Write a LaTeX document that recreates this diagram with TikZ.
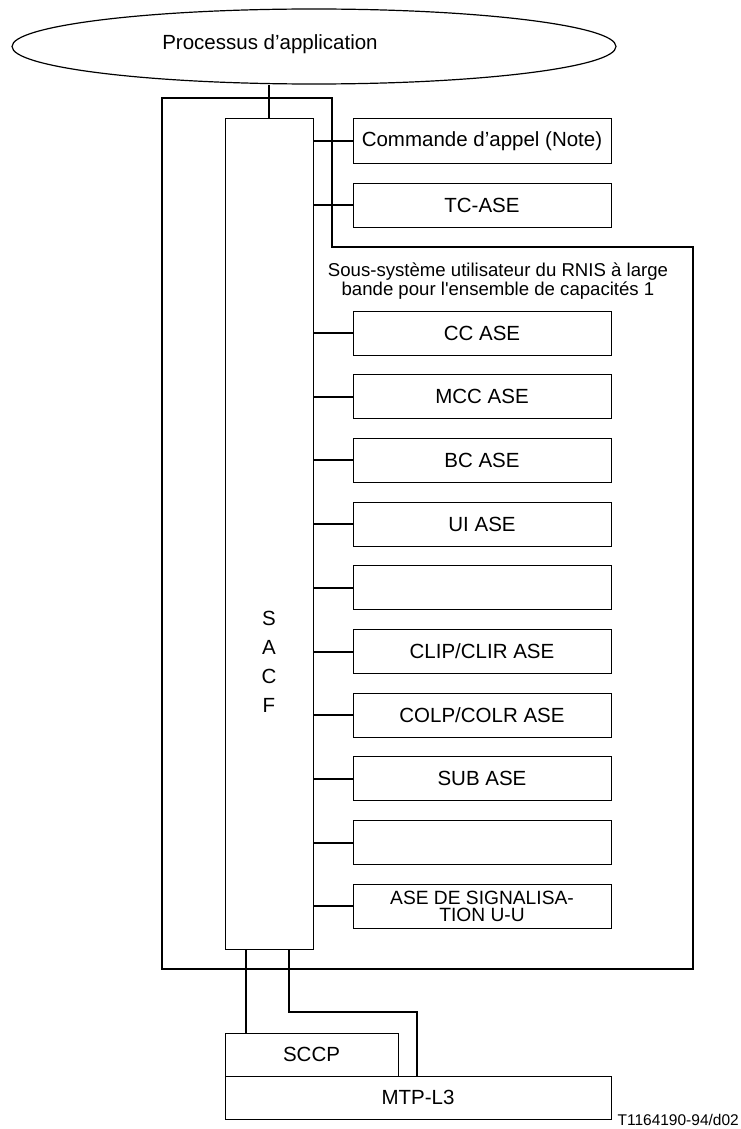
\documentclass[tikz,border=0pt]{standalone}
\usepackage{fontspec}
\setmainfont{Liberation Sans}[Ligatures=TeXOff]
\usetikzlibrary{shapes.geometric}
\newcommand{\mainsz}{\fontsize{20.5}{23}\selectfont}
\newcommand{\smallsz}{\fontsize{18.6}{17}\selectfont}
\newcommand{\usz}{\fontsize{19.2}{17.5}\selectfont}
\newcommand{\tinysz}{\fontsize{15.5}{18}\selectfont}
\tikzset{
  asebox/.style={draw, line width=1pt, minimum width=258pt, minimum height=44pt, inner sep=0pt, font=\mainsz},
  conn/.style={line width=2pt},
  framel/.style={line width=2.3pt},
  lowbox/.style={draw, line width=1pt, inner sep=0pt, font=\mainsz},
}
\begin{document}
\begin{tikzpicture}[x=1pt,y=-1pt]
\useasboundingbox (0,0) rectangle (740,1129);
% outer frame
\draw[framel] (162,98) -- (332,98) -- (332,247) -- (693,247) -- (693,969) -- (162,969) -- cycle;
% application process
\node[ellipse, draw, line width=1.2pt, minimum width=604pt, minimum height=75pt, inner sep=0pt] (app) at (314,46.5) {};
\node[font=\mainsz, anchor=center] (apptxt) at (270,44) {Processus d’application};
% SACF
\node[draw, line width=1pt, minimum width=88pt, minimum height=830pt, inner sep=0pt, fill=white] (sacf) at (269,534) {};
\node[font=\mainsz, align=center, text width=20pt, inner sep=0pt] (sacftxt) at (269,662) {\baselineskip=29pt S\\A\\C\\F\par};
% ASE boxes
\node[asebox] (cmd) at (482,141) {Commande d’appel (Note)};
\node[asebox] (tc) at (482,205) {TC-ASE};
\node[font=\smallsz, align=center, inner sep=0pt] (sub) at (498,281) {Sous-système utilisateur du RNIS à large\\bande pour l'ensemble de capacités 1};
\node[asebox] (cc) at (482,333) {CC ASE};
\node[asebox] (mcc) at (482,396.7) {MCC ASE};
\node[asebox] (bc) at (482,460.4) {BC ASE};
\node[asebox] (ui) at (482,524.1) {UI ASE};
\node[asebox] (b1) at (482,587.8) {};
\node[asebox] (clip) at (482,651.5) {CLIP/CLIR ASE};
\node[asebox] (colp) at (482,715.2) {COLP/COLR ASE};
\node[asebox] (subase) at (482,778.9) {SUB ASE};
\node[asebox] (b2) at (482,842.6) {};
\node[asebox, font=\usz, align=center] (uu) at (482,906.3) {ASE DE SIGNALISA-\\TION U-U};
% stubs
\foreach \b in {cmd,tc,cc,mcc,bc,ui,b1,clip,colp,subase,b2,uu}
  \draw[conn] (sacf.east |- \b.west) -- (\b.west);
% line to application process
\draw[conn] (sacf.north) -- (sacf.north |- app.south);
% lower boxes
\node[lowbox, minimum width=386pt, minimum height=43pt] (mtp) at (418,1097.5) {MTP-L3};
\node[lowbox, minimum width=173pt, minimum height=43pt] (sccp) at (311.5,1054.5) {SCCP};
\coordinate (sL) at (246,949);
\coordinate (sR) at (289,949);
\coordinate (bend) at (417,1012);
\draw[conn] (sL) -- (sL |- sccp.north);
\draw[conn] (sR) |- (bend) -- (bend |- mtp.north);
\node[font=\tinysz, anchor=base east, inner sep=0pt] (ref) at (739,1125) {T1164190-94/d02};
\end{tikzpicture}
\end{document}
